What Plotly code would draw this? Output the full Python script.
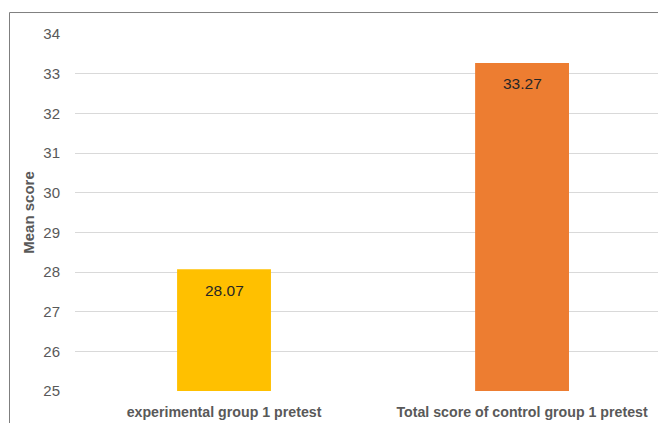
import plotly.graph_objects as go

categories = ["experimental group 1 pretest", "Total score of control group 1 pretest"]
values = [28.07, 33.27]
value_labels = ["28.07", "33.27"]
colors = ["#FFC000", "#ED7D31"]
y_ticks = [25, 26, 27, 28, 29, 30, 31, 32, 33, 34]

# page body has an 8px offset; compensate in margins
OFF = 8
L, T, R, B = 75 - OFF, 34 - OFF, OFF, 423 - 391.5 + OFF
plot_w = 666 - L - R
plot_h = 423 - T - B

fig = go.Figure()
fig.add_trace(go.Bar(
    x=categories, y=values, marker=dict(color=colors, line=dict(width=0)),
    width=0.315, hoverinfo="skip",
))
for c, v, t in zip(categories, values, value_labels):
    fig.add_annotation(x=c, y=v, text=t, showarrow=False, yshift=-21,
                       font=dict(family="Liberation Sans", size=15.5, color="#262626"))

# outer chart frame (top and left edges visible)
fig.add_shape(type="rect", xref="paper", yref="paper",
              x0=(9.5 - OFF - L) / plot_w, x1=1.2,
              y0=-0.3, y1=(T + plot_h - (12.5 - OFF)) / plot_h,
              line=dict(color="#7f7f7f", width=1), fillcolor="rgba(0,0,0,0)", layer="below")

fig.update_layout(
    width=666, height=423,
    margin=dict(l=L, r=R, t=T, b=B, autoexpand=False),
    paper_bgcolor="white", plot_bgcolor="white",
    showlegend=False,
    xaxis=dict(range=[-0.5, 1.483], showgrid=False, zeroline=False, showline=False,
               ticks="", ticklabelstandoff=11,
               tickfont=dict(family="Liberation Sans", size=14.2, color="#595959", weight="bold")),
    yaxis=dict(range=[25, 34], tickvals=y_ticks, showgrid=True, gridcolor="#d9d9d9", gridwidth=1,
               zeroline=False, showline=False, ticks="", ticklabelstandoff=14,
               tickfont=dict(family="Liberation Sans", size=15, color="#595959"),
               title=dict(text="<b>Mean score</b>", standoff=5,
                          font=dict(family="Liberation Sans", size=15, color="#595959"))),
)
fig.write_html("out.html")
